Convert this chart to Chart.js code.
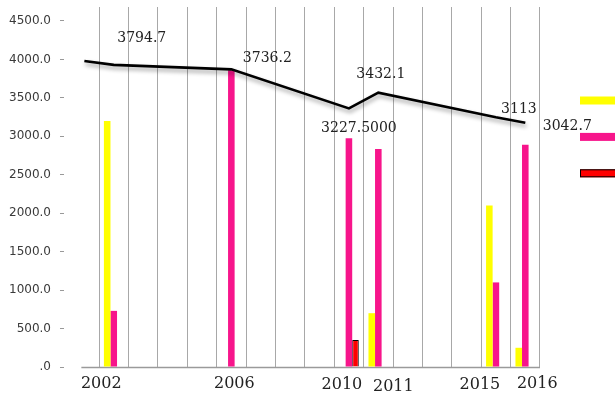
<!DOCTYPE html>
<html>
<head>
<meta charset="utf-8">
<script src="https://cdn.jsdelivr.net/npm/chart.js@4"></script>
<style>
  html, body { margin: 0; padding: 0; background: #fff; }
  #wrap { position: relative; width: 615px; height: 394px; }
</style>
</head>
<body>
<div id="wrap"><canvas id="chart"></canvas></div>
<script>
// Years that carry values and labels
const years = [2002, 2006, 2010, 2011, 2015, 2016];

// Bar series (null = no bar that year)
const yellowValues = [3200, null, null, 700, 2100, 250];
const pinkValues   = [730, 3860, 2975, 2835, 1100, 2890];
const redValues    = [null, null, 350, null, null, null];

// Line series: starts one year earlier, unlabelled first point
const lineYears    = [2001, 2002, 2006, 2010, 2011, 2015, 2016];
const lineValues   = [3845, 3794.7, 3736.2, 3227.5, 3432.1, 3113, 3042.7];
const lineDecimals = [null, 1, 1, 4, 1, 0, 1];

// Value axis ticks
const yTicks = [0, 500, 1000, 1500, 2000, 2500, 3000, 3500, 4000, 4500];

const seriesNames = ['Series 1', 'Series 2', 'Series 3', 'Series 4'];
const seriesColors = ['#ffff00', '#f7158b', '#ff0000', '#000000'];

// ---- styling / placement tweaks ----
const yearLabelNudge = [[-12.5, 0], [3, 0], [-7, 1], [15, 3], [-16, 1], [12, 0]];
const valueLabelNudge = [null, [28, -28], [36, -12], [10, 18.5], [2.5, -20], [23, -9], [42, 2.5]];
const lineAxisShift = -135;   // secondary axis offset for the line
const yTop = 4682;            // headroom above 4500 so the grid runs to the top

const pts = (xs, vs) => xs.map((x, i) => ({ x: x, y: vs[i] }));

const lineShadow = {
  id: 'lineShadow',
  beforeDatasetDraw(chart, args) {
    if (chart.data.datasets[args.index].type !== 'line') return;
    const ctx = chart.ctx;
    ctx.save();
    ctx.shadowColor = 'rgba(0,0,0,0.38)';
    ctx.shadowBlur = 4;
    ctx.shadowOffsetX = 1;
    ctx.shadowOffsetY = 3;
  },
  afterDatasetDraw(chart, args) {
    if (chart.data.datasets[args.index].type !== 'line') return;
    chart.ctx.restore();
  }
};

const decorations = {
  id: 'decorations',
  beforeDatasetsDraw(chart) {
    // category baseline
    const { ctx, chartArea, scales } = chart;
    const x0 = scales.x.getPixelForValue(lineYears[0]) - 3;
    ctx.save();
    ctx.strokeStyle = '#9a9a9a';
    ctx.lineWidth = 1.5;
    ctx.beginPath();
    ctx.moveTo(x0, chartArea.bottom + 0.5);
    ctx.lineTo(chartArea.right, chartArea.bottom + 0.5);
    ctx.stroke();
    ctx.restore();
  },
  afterDraw(chart) {
    const { ctx, chartArea, scales } = chart;
    ctx.save();

    // year labels under the axis
    ctx.font = '16px "DejaVu Serif"';
    ctx.fillStyle = '#222';
    ctx.textAlign = 'center';
    ctx.textBaseline = 'alphabetic';
    years.forEach((yr, i) => {
      const px = scales.x.getPixelForValue(yr);
      ctx.fillText(String(yr), px + yearLabelNudge[i][0], chartArea.bottom + 21 + yearLabelNudge[i][1]);
    });

    // value labels for the line
    const meta = chart.getDatasetMeta(3);
    ctx.font = '14px "DejaVu Serif"';
    ctx.fillStyle = '#222';
    meta.data.forEach((pt, i) => {
      if (lineDecimals[i] === null) return;
      const txt = lineValues[i].toFixed(lineDecimals[i]);
      const n = valueLabelNudge[i];
      ctx.fillText(txt, pt.x + n[0], pt.y + n[1] + 5);
    });

    // legend swatches at the right edge
    const sx = chartArea.right + 40;
    const sw = chart.width - sx + 10;
    [0, 1, 2].forEach(k => {
      const cy = chartArea.top + 93.5 + k * 36.4;
      ctx.fillStyle = seriesColors[k];
      ctx.fillRect(sx, cy - 4, sw, 8);
      if (k === 2) {
        ctx.strokeStyle = '#000';
        ctx.lineWidth = 1;
        ctx.strokeRect(sx + 0.5, cy - 3.5, sw, 7);
      }
    });
    ctx.restore();
  }
};

new Chart(document.getElementById('chart'), {
  type: 'bar',
  data: {
    datasets: [
      { label: seriesNames[0], data: pts(years, yellowValues), backgroundColor: seriesColors[0], borderWidth: 0, order: 1 },
      { label: seriesNames[1], data: pts(years, pinkValues), backgroundColor: seriesColors[1], borderWidth: 0, order: 1 },
      { label: seriesNames[2], data: pts(years, redValues), backgroundColor: seriesColors[2], borderColor: '#000', borderWidth: 1, order: 1 },
      { label: seriesNames[3], type: 'line', data: pts(lineYears, lineValues), yAxisID: 'y2',
        borderColor: '#000', borderWidth: 2.6, pointRadius: 0, tension: 0, fill: false, order: 0 }
    ]
  },
  options: {
    responsive: true,
    maintainAspectRatio: false,
    animation: false,
    layout: { padding: { left: 0, right: 75, top: 7, bottom: 27 } },
    datasets: { bar: { categoryPercentage: 0.67, barPercentage: 1.0 } },
    plugins: { legend: { display: false }, tooltip: { enabled: false } },
    scales: {
      x: {
        type: 'linear',
        min: 2000.307,
        max: 2016.5,
        offset: false,
        afterBuildTicks(scale) {
          const t = [];
          for (let y = years[0]; y <= years[years.length - 1]; y++) t.push({ value: y });
          scale.ticks = t;
        },
        ticks: { display: false },
        grid: { offset: true, color: '#a8a8a8', lineWidth: 1, drawTicks: false },
        border: { display: false }
      },
      y: {
        min: 0,
        max: yTop,
        afterBuildTicks(scale) { scale.ticks = yTicks.map(v => ({ value: v })); },
        afterFit(scale) { scale.paddingTop = 0; scale.paddingBottom = 0; },
        ticks: {
          padding: 9,
          color: '#3a3a3a',
          font: { family: '"DejaVu Sans"', size: 12 },
          callback: v => (v === 0 ? '.0' : v.toFixed(1))
        },
        grid: { drawOnChartArea: false, drawTicks: true, tickLength: 4, color: '#999' },
        border: { display: false }
      },
      y2: {
        display: false,
        min: lineAxisShift,
        max: yTop + lineAxisShift
      }
    }
  },
  plugins: [lineShadow, decorations]
});
</script>
</body>
</html>
